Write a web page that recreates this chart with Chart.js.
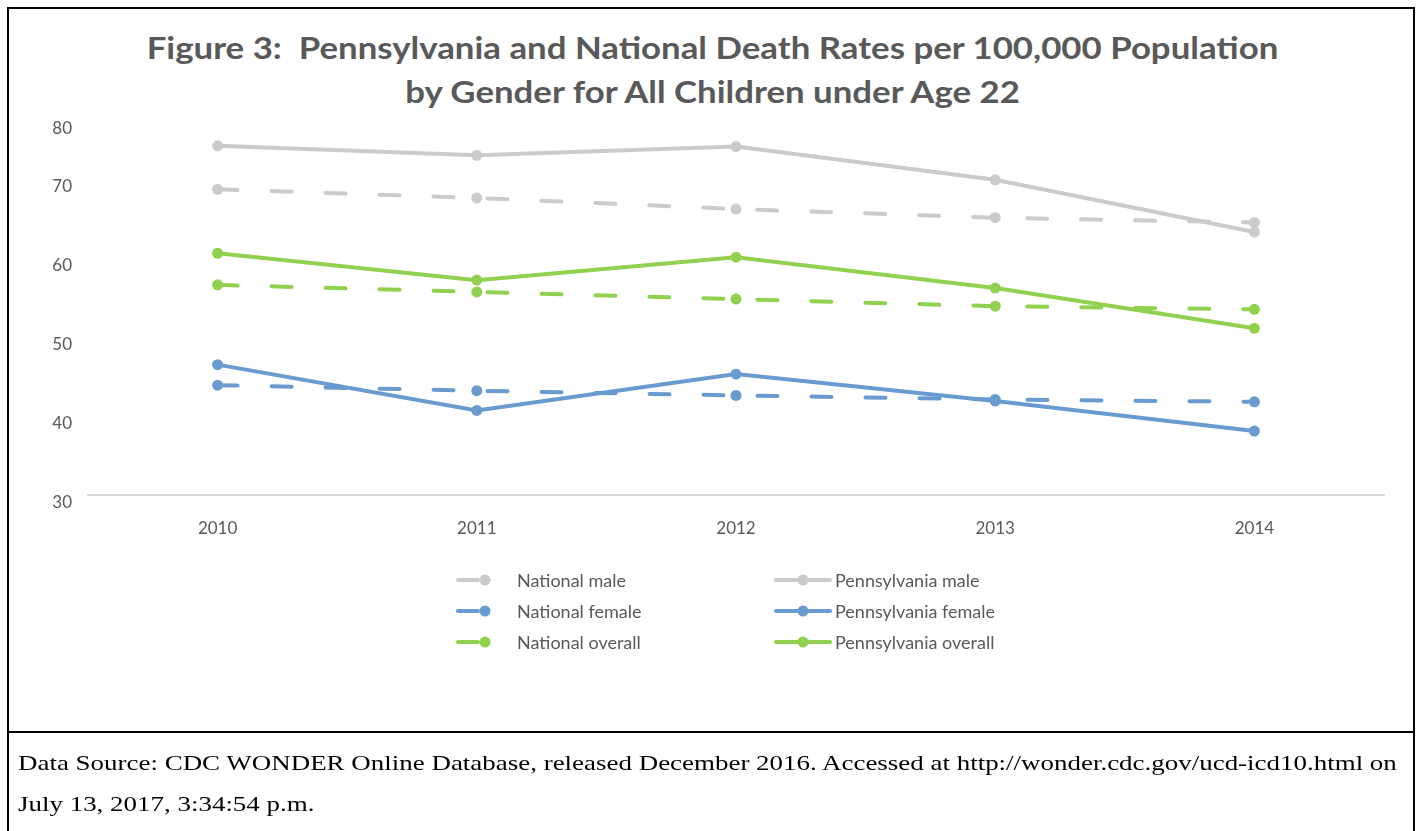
<!DOCTYPE html>
<html>
<head>
<meta charset="utf-8">
<script src="https://cdn.jsdelivr.net/npm/chart.js@4.4.1/dist/chart.umd.min.js"></script>
<style>
    html, body { margin: 0; padding: 0; background: #fff; }
    body { width: 1421px; height: 831px; position: relative; overflow: hidden; }
    .frame {
        position: absolute; left: 7px; top: 7px; width: 1404px; height: 900px;
        border: 2px solid #000;
    }
    .divider {
        position: absolute; left: 7px; top: 731px; width: 1408px; height: 2px; background: #000;
    }
    .title {
        position: absolute; left: 0; top: 25px; width: 1425px; text-align: center;
        font: bold 30px Lato, sans-serif; color: #595959; line-height: 44px;
        transform: scaleX(1.16); transform-origin: 712.5px 0;
    }
    .source {
        position: absolute; left: 18px; top: 742px;
        font: 22px "Liberation Serif", "Times New Roman", serif; color: #000; line-height: 41px;
        white-space: nowrap; transform: scaleX(1.225); transform-origin: 0 0;
    }
    #chart { position: absolute; left: 0; top: 0; }
</style>
</head>
<body>
<div class="frame"></div>
<div class="divider"></div>
<div class="title">Figure 3:&nbsp; Pennsylvania and National Death Rates per 100,000 Population<br>by Gender for All Children under Age 22</div>
<canvas id="chart" width="1421" height="831"></canvas>
<div class="source">Data Source: CDC WONDER Online Database, released December 2016. Accessed at http://wonder.cdc.gov/ucd-icd10.html on<br>July 13, 2017, 3:34:54 p.m.</div>

<script>
// Rates per 100,000
const years = ['2010', '2011', '2012', '2013', '2014'];
const nationalMale = [68.7, 67.6, 66.2, 65.1, 64.5];
const nationalFemale = [43.9, 43.2, 42.6, 42.1, 41.8];
const nationalOverall = [56.6, 55.7, 54.8, 53.9, 53.5];
const paMale = [74.2, 73.0, 74.1, 69.9, 63.3];
const paFemale = [46.5, 40.7, 45.3, 41.9, 38.1];
const paOverall = [60.6, 57.2, 60.1, 56.2, 51.1];
const yTicks = [30, 40, 50, 60, 70, 80];

const GREY = '#cbcbcb';
const BLUE = '#6a9bd0';
const GREEN = '#92d050';
const TEXT = '#595959';

function series(label, data, color, dashed) {
    return {
        label: label,
        data: data,
        borderColor: color,
        backgroundColor: color,
        borderWidth: 4,
        borderDash: dashed ? [20, 34] : [],
        borderCapStyle: 'round',
        pointRadius: 5.5,
        pointHoverRadius: 5.5,
        pointBorderWidth: 0,
        tension: 0
    };
}

// two column legend: national on the left, Pennsylvania on the right
const legendCols = [458, 776];
const legendRows = [580, 611, 642];
const gridLegend = {
    id: 'gridLegend',
    afterDraw(chart) {
        const ctx = chart.ctx;
        chart.data.datasets.forEach((ds, i) => {
            const x = legendCols[i < 3 ? 0 : 1];
            const y = legendRows[i % 3];
            ctx.save();
            ctx.strokeStyle = ds.borderColor;
            ctx.lineWidth = ds.borderWidth;
            ctx.lineCap = 'round';
            ctx.setLineDash(ds.borderDash);
            ctx.beginPath();
            ctx.moveTo(x, y);
            ctx.lineTo(x + 54, y);
            ctx.stroke();
            ctx.setLineDash([]);
            ctx.fillStyle = ds.backgroundColor;
            ctx.beginPath();
            ctx.arc(x + 27, y, 5.5, 0, Math.PI * 2);
            ctx.fill();
            ctx.fillStyle = TEXT;
            ctx.font = '18px Lato, sans-serif';
            ctx.textBaseline = 'middle';
            ctx.fillText(ds.label, x + 59, y + 1);
            ctx.restore();
        });
    }
};

const ctx = document.getElementById('chart').getContext('2d');
new Chart(ctx, {
    type: 'line',
    data: {
        labels: years,
        datasets: [
            series('National male', nationalMale, GREY, true),
            series('National female', nationalFemale, BLUE, true),
            series('National overall', nationalOverall, GREEN, true),
            series('Pennsylvania male', paMale, GREY, false),
            series('Pennsylvania female', paFemale, BLUE, false),
            series('Pennsylvania overall', paOverall, GREEN, false)
        ]
    },
    options: {
        responsive: false,
        animation: false,
        layout: { padding: { top: 100, left: 28, right: 37, bottom: 286 } },
        plugins: {
            legend: { display: false },
            tooltip: { enabled: false }
        },
        scales: {
            x: {
                offset: true,
                grid: { display: false, drawTicks: false },
                border: { display: true, color: '#d9d9d9', width: 2 },
                ticks: { color: TEXT, font: { family: 'Lato', size: 17 }, padding: 23 },
                afterFit: (scale) => { scale.height = 50; }
            },
            y: {
                min: 30,
                max: 80,
                afterBuildTicks: (scale) => { scale.ticks = yTicks.map(v => ({ value: v })); },
                grid: { display: false, drawTicks: false },
                border: { display: false },
                ticks: {
                    color: TEXT,
                    font: { family: 'Lato', size: 17 },
                    padding: 16,
                    labelOffset: 8,
                    // top label sits a little lower, clear of the title
                    callback: (v) => v === 80 ? ['', '', '80'] : String(v)
                },
                afterFit: (scale) => { scale.width = 60; }
            }
        }
    },
    plugins: [gridLegend]
});
</script>
</body>
</html>
